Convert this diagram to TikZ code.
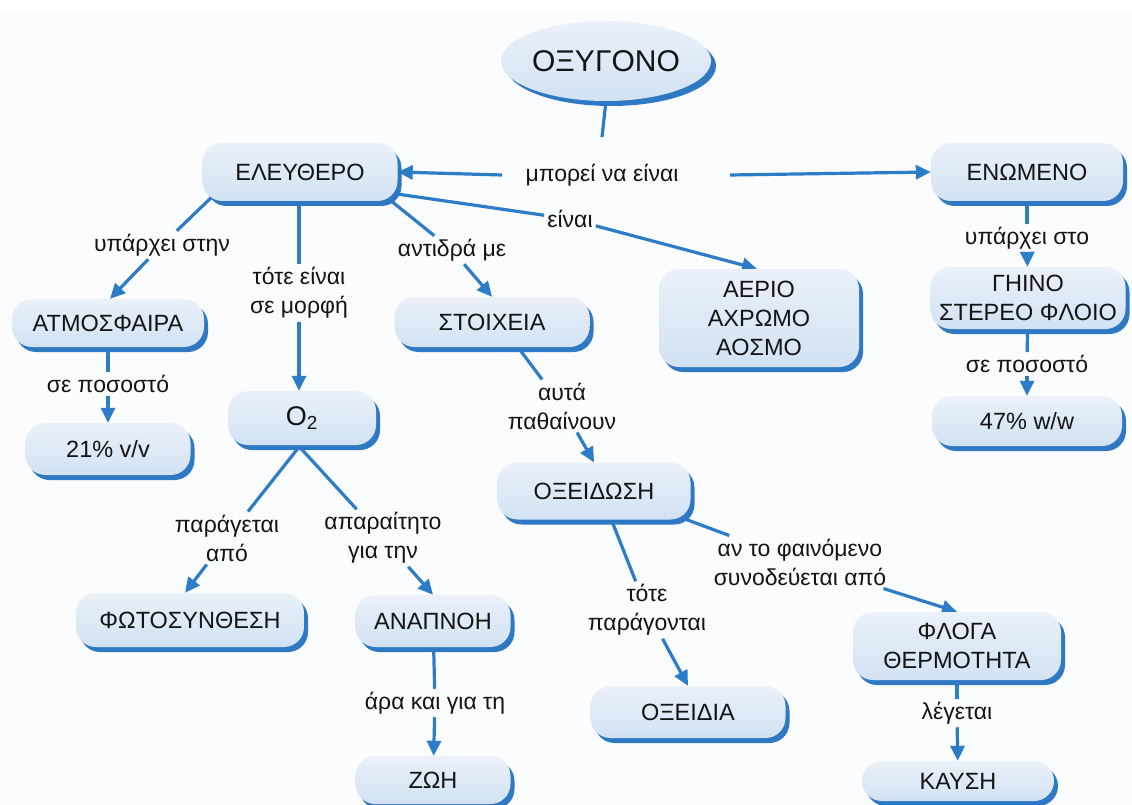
\documentclass[tikz,border=0pt]{standalone}
\usepackage{fontspec}
\setmainfont{Liberation Sans}
\usetikzlibrary{arrows.meta,shapes.geometric}
\pgfdeclarelayer{back}
\pgfdeclarelayer{lines}
\pgfsetlayers{back,lines,main}
\definecolor{bgc}{RGB}{250,252,254}
\definecolor{linec}{RGB}{44,124,200}
\definecolor{shadc}{RGB}{46,120,196}
\definecolor{boxtop}{RGB}{234,241,249}
\definecolor{boxbot}{RGB}{210,226,243}
\definecolor{txtc}{RGB}{20,20,20}
\begin{document}
\begin{tikzpicture}[x=1pt,y=-1pt,
  box/.style={rectangle, rounded corners=20pt, top color=boxtop, bottom color=boxbot, draw=none, inner sep=0pt, align=center, text=txtc, font=\fontsize{23.5}{29}\selectfont, preaction={fill=shadc, transform canvas={xshift=4pt,yshift=-5pt}}},
  ellbox/.style={ellipse, top color=boxtop, bottom color=boxbot, draw=none, inner sep=0pt, text=txtc, preaction={fill=shadc, transform canvas={xshift=5pt,yshift=-5pt}}},
  lab/.style={inner sep=3pt, align=center, text=txtc, font=\fontsize{23}{29}\selectfont},
  conn/.style={draw=linec, line width=3.2pt},
  arr/.style={conn, -{Triangle[length=15pt,width=14pt]}},
]
\useasboundingbox (0,0) rectangle (1132,805);
\begin{pgfonlayer}{back}
\fill[white] (0,0) rectangle (1132,805);
\fill[bgc] (0,12) rectangle (1132,805);
\end{pgfonlayer}

% concepts
\node[ellbox, minimum width=210pt, minimum height=80pt] (oxy) at (606,61) {\fontsize{30}{36}\selectfont ΟΞΥΓΟΝΟ};
\node[box, minimum width=195pt, minimum height=58pt] (el) at (300,172) {ΕΛΕΥΘΕΡΟ};
\node[box, minimum width=192pt, minimum height=58pt] (en) at (1027,172) {ΕΝΩΜΕΝΟ};
\node[box, minimum width=195pt, minimum height=62pt] (ge) at (1028,298) {ΓΗΙΝΟ\\ΣΤΕΡΕΟ ΦΛΟΙΟ};
\node[box, minimum width=190pt, minimum height=50pt] (p47) at (1027,421) {47\% w/w};
\node[box, minimum width=192pt, minimum height=48pt] (atm) at (108,323) {ΑΤΜΟΣΦΑΙΡΑ};
\node[box, minimum width=165pt, minimum height=52pt] (p21) at (108,449) {21\% v/v};
\node[box, minimum width=148pt, minimum height=54pt] (o2) at (302,418) {\fontsize{27}{30}\selectfont O\textsubscript{2}};
\node[box, minimum width=195pt, minimum height=50pt] (st) at (492,322) {ΣΤΟΙΧΕΙΑ};
\node[box, minimum width=200pt, minimum height=98pt] (aer) at (759,318) {ΑΕΡΙΟ\\ΑΧΡΩΜΟ\\ΑΟΣΜΟ};
\node[box, minimum width=193pt, minimum height=57pt] (ox) at (594,491) {ΟΞΕΙΔΩΣΗ};
\node[box, minimum width=195pt, minimum height=52pt] (oxd) at (688,712) {ΟΞΕΙΔΙΑ};
\node[box, minimum width=208pt, minimum height=68pt] (flo) at (957,646) {ΦΛΟΓΑ\\ΘΕΡΜΟΤΗΤΑ};
\node[box, minimum width=192pt, minimum height=40pt] (kay) at (958,781) {ΚΑΥΣΗ};
\node[box, minimum width=228pt, minimum height=54pt] (fot) at (190,620) {ΦΩΤΟΣΥΝΘΕΣΗ};
\node[box, minimum width=155pt, minimum height=52pt] (ana) at (433,621) {ΑΝΑΠΝΟΗ};
\node[box, minimum width=155pt, minimum height=48pt] (zoi) at (433,780) {ΖΩΗ};

% linking phrases
\node[lab] (m) at (602,175) {μπορεί να είναι};
\node[lab] (l1) at (162,245) {υπάρχει στην};
\node[lab] (l2) at (299,293) {τότε είναι\\σε μορφή};
\node[lab] (l3) at (452,250) {αντιδρά με};
\node[lab] (l4) at (570,219) {είναι};
\node[lab] (l5) at (1027,238) {υπάρχει στο};
\node[lab] (l6) at (1027,364) {σε ποσοστό};
\node[lab] (l7) at (108,384) {σε ποσοστό};
\node[lab] (l8) at (562,406) {αυτά\\παθαίνουν};
\node[lab] (l9) at (647,610) {τότε\\παράγονται};
\node[lab] (l10) at (800,562) {αν το φαινόμενο\\συνοδεύεται από};
\node[lab] (l11) at (957,713) {λέγεται};
\node[lab] (l12) at (227,538) {παράγεται\\από};
\node[lab] (l13) at (383,538) {απαραίτητο\\για την};
\node[lab] (l14) at (435,703) {άρα και για τη};

\begin{pgfonlayer}{lines}
\draw[conn] (oxy.south) -- ([yshift=38pt]m.center);
\draw[arr] ([xshift=-100pt]m.center) -- (el.east);
\draw[arr] ([xshift=128pt]m.center) -- (en.west);

\draw[conn] ([xshift=-85pt,yshift=-22pt]el.center) -- (l1);
\draw[arr] (l1) -- ([xshift=2pt]atm.north);
\draw[conn] (el.south -| l2) -- (l2);
\draw[arr] (l2) -- (o2.north -| l2);
\draw[conn] ([xshift=80pt,yshift=-20pt]el.center) -- (l3);
\draw[arr] (l3) -- (st.north);
\draw[conn] ([xshift=90pt,yshift=-21pt]el.center) -- (l4);
\draw[arr] (l4) -- ([xshift=-2pt]aer.north);

\draw[conn] (en) -- (l5);
\draw[arr] (l5) -- (ge);
\draw[conn] (ge) -- (l6);
\draw[arr] (l6) -- (p47);

\draw[conn] (atm) -- (l7);
\draw[arr] (l7) -- (p21);

\draw[conn] ([xshift=13pt,yshift=-8pt]st.center) -- (l8);
\draw[arr] (l8) -- (ox.north);

\draw[conn] ([xshift=10pt,yshift=-10pt]ox.center) -- (l9);
\draw[arr] (l9) -- (oxd.north);
\draw[conn] ([xshift=75pt,yshift=-22pt]ox.center) -- (l10);
\draw[arr] (l10) -- (flo.north);
\draw[conn] (flo) -- (l11);
\draw[arr] (l11) -- (kay);

\draw[conn] ([xshift=20pt]o2.center) -- (l12);
\draw[arr] (l12) -- ([xshift=-5pt]fot.north);
\draw[conn] ([xshift=-29pt]o2.center) -- (l13);
\draw[arr] (l13) -- (ana.north);

\draw[conn] (ana) -- (l14);
\draw[arr] (l14) -- (zoi);
\end{pgfonlayer}
\end{tikzpicture}
\end{document}
